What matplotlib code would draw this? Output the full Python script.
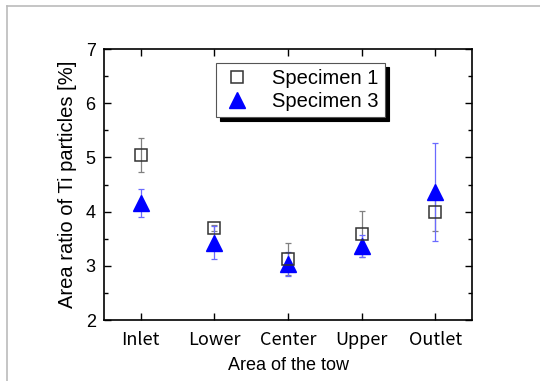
import matplotlib
matplotlib.use("Agg")
import matplotlib.pyplot as plt
from matplotlib.lines import Line2D
from matplotlib.ticker import MultipleLocator

plt.rcParams['font.family'] = ['Liberation Sans', 'DejaVu Sans']

categories = ["Inlet", "Lower", "Center", "Upper", "Outlet"]
spec1 = [5.04, 3.70, 3.13, 3.59, 3.99]
spec1_err = [0.31, 0.05, 0.30, 0.43, 0.34]
spec3 = [4.16, 3.43, 3.03, 3.37, 4.36]
spec3_err = [0.26, 0.31, 0.22, 0.20, 0.90]

fig = plt.figure(figsize=(5.4, 3.81), dpi=100)
fig.patch.set_facecolor('white')
ax = fig.add_axes([0.1926, 0.160, 0.6815, 0.7113])

x = list(range(1, len(categories) + 1))

ax.errorbar(x, spec1, yerr=spec1_err, fmt='none', ecolor='#808080',
            elinewidth=0.9, capsize=2.5, capthick=0.9, zorder=2)
ax.errorbar(x, spec3, yerr=spec3_err, fmt='none', ecolor='#6a6aff',
            elinewidth=0.9, capsize=2.5, capthick=0.9, zorder=2)
ax.plot(x, spec3, linestyle='none', marker='^', markersize=12,
        markerfacecolor='#0000ff', markeredgecolor='#0000ff', zorder=3,
        label='Specimen 3')
ax.plot(x, spec1, linestyle='none', marker='s', markersize=8.5,
        markerfacecolor='none', markeredgecolor='#333333', markeredgewidth=1.1,
        zorder=4, label='Specimen 1')

ax.set_xlim(0.5, 5.5)
ax.set_ylim(2, 7)
ax.set_xticks(x)
ax.set_xticklabels(categories, family=['Noto Sans CJK JP', 'DejaVu Sans'])
ax.yaxis.set_major_locator(MultipleLocator(1))
ax.yaxis.set_minor_locator(MultipleLocator(0.5))
ax.tick_params(axis='both', which='both', direction='in', top=True, right=True,
               labelsize=13, width=1.0, color='black')
ax.tick_params(axis='both', which='major', length=5)
ax.tick_params(axis='y', which='minor', length=3)
ax.tick_params(axis='x', which='major', pad=8)
ax.tick_params(axis='y', which='major', pad=6)
for s in ax.spines.values():
    s.set_linewidth(1.2)

ax.set_xlabel('Area of the tow', fontsize=13, labelpad=6)
ax.set_ylabel('Area ratio of Ti particles [%]', fontsize=14.5, labelpad=6)

h, l = ax.get_legend_handles_labels()
leg = ax.legend([h[1], h[0]], [l[1], l[0]], loc='upper left',
                bbox_to_anchor=(0.304, 0.948), fontsize=14.5, frameon=True,
                fancybox=False, shadow={'color': 'black', 'alpha': 1.0, 'ox': 3, 'oy': -3},
                borderpad=0.3, handletextpad=1.0, labelspacing=0.2,
                borderaxespad=0, handlelength=1.5)
leg.get_frame().set_edgecolor('#555555')
leg.get_frame().set_linewidth(0.8)

# light gray partial border of the picture
fig.add_artist(Line2D([7/540, 7/540], [0, 1 - 6/381], color='#bbbbbb', lw=1.2,
                      transform=fig.transFigure))
fig.add_artist(Line2D([7/540, 1], [1 - 6/381, 1 - 6/381], color='#bbbbbb', lw=1.2,
                      transform=fig.transFigure))

fig.savefig('out.png', dpi=100)
